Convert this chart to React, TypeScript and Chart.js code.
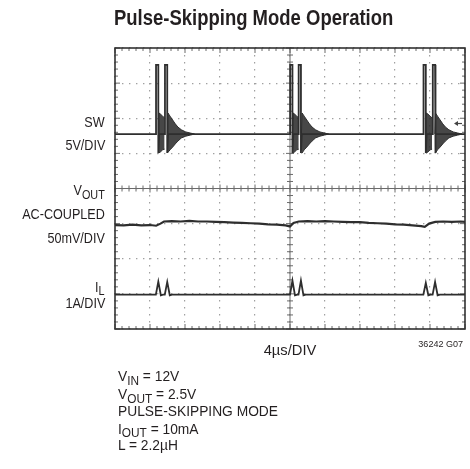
import React, { useEffect, useRef } from "react";
import { Chart, registerables } from "chart.js";

Chart.register(...registerables);

// ---- Axis ranges (scope graticule: 10 x 4µs divisions, 8 vertical divisions) ----
const TIME_MIN = 0;
const TIME_MAX = 40; // µs
const TIME_STEP = 4; // µs per division
const DIV_MIN = 0;
const DIV_MAX = 8;

// ---- SW trace (values in divisions from bottom of screen) ----
const SW_BASE = 5.55;
const SW_HIGH = 7.52;
const SW_LOW = 5.01;
const SW_PULSE_RISE = [4.69, 5.71, 20.02, 20.99, 35.26, 36.32]; // µs
const SW_PULSE_FALL = [4.95, 5.97, 20.28, 21.25, 35.52, 36.58]; // µs
const SW_BURST_START = [4.69, 20.02, 35.26]; // µs

// ringing envelope after first pulse of each burst (offset µs, high, low)
const RING_A_DT = [0.27, 0.33, 0.5, 0.75, 0.98];
const RING_A_HI = [5.55, 6.15, 6.12, 6.06, 6.01];
const RING_A_LO = [5.01, 5.01, 5.04, 5.1, 5.12];
// ringing envelope after second pulse of each burst
const RING_B_DT = [1.29, 1.36, 1.6, 1.9, 2.2, 2.5, 2.9, 3.4, 3.9, 4.4];
const RING_B_HI = [5.55, 6.15, 6.06, 5.95, 5.84, 5.75, 5.67, 5.61, 5.58, 5.55];
const RING_B_LO = [5.01, 5.01, 5.1, 5.18, 5.27, 5.35, 5.44, 5.49, 5.52, 5.55];

// ---- VOUT trace ----
const VOUT_TIME = [0, 1, 2, 3, 4, 4.7, 5.2, 5.6, 6.5, 7.5, 8.5, 9.5, 10.5, 11.5, 12.5, 13.5, 14.5, 15.5, 16.5, 17.5, 18.5, 19.5, 20.0, 20.4, 21.0, 22, 23, 24, 25, 26, 27, 28, 29, 30, 31, 32, 33, 34, 35, 35.4, 35.9, 36.6, 37.5, 38.5, 39.5, 40];
const VOUT_DIV = [2.96, 2.95, 2.97, 2.95, 2.96, 2.94, 3.0, 3.06, 3.07, 3.06, 3.08, 3.06, 3.06, 3.05, 3.04, 3.03, 3.02, 3.01, 3.0, 2.98, 2.97, 2.95, 2.92, 3.02, 3.06, 3.07, 3.06, 3.07, 3.06, 3.05, 3.04, 3.04, 3.02, 3.01, 3.0, 2.98, 2.97, 2.95, 2.93, 2.91, 3.0, 3.05, 3.06, 3.05, 3.06, 3.05];

// ---- IL trace ----
const IL_BASE = 0.98;
const IL_SPIKE_TIME = [4.69, 5.71, 20.02, 20.99, 35.26, 36.32];
const IL_SPIKE_PEAK = [1.35, 1.34, 1.38, 1.38, 1.31, 1.34];

// ---- Text ----
const TITLE = "Pulse-Skipping Mode Operation";
const TIME_LABEL = "4µs/DIV";
const FIG_ID = "36242 G07";

const FONT = "'Liberation Sans', Arial, Helvetica, sans-serif";
const INK = "#231f20";
const TRACE = "#2e2e2e";

function buildSW() {
  const pts: { x: number; y: number }[] = [{ x: TIME_MIN, y: SW_BASE }];
  SW_PULSE_RISE.forEach((r, i) => {
    const f = SW_PULSE_FALL[i];
    pts.push({ x: r, y: SW_BASE });
    pts.push({ x: r, y: SW_HIGH });
    pts.push({ x: f, y: SW_HIGH });
    pts.push({ x: f, y: SW_LOW });
    pts.push({ x: f + 0.1, y: SW_BASE });
  });
  pts.push({ x: TIME_MAX, y: SW_BASE });
  return pts;
}

function buildIL() {
  const pts: { x: number; y: number }[] = [{ x: TIME_MIN, y: IL_BASE }];
  IL_SPIKE_TIME.forEach((t, i) => {
    pts.push({ x: t - 0.02, y: IL_BASE });
    pts.push({ x: t + 0.26, y: IL_SPIKE_PEAK[i] });
    pts.push({ x: t + 0.55, y: IL_BASE - 0.02 });
    pts.push({ x: t + 0.8, y: IL_BASE });
  });
  pts.push({ x: TIME_MAX, y: IL_BASE });
  return pts;
}

function ringDatasets() {
  const ds: any[] = [];
  SW_BURST_START.forEach((s) => {
    [[RING_A_DT, RING_A_HI, RING_A_LO], [RING_B_DT, RING_B_HI, RING_B_LO]].forEach(([dt, hi, lo]) => {
      ds.push({
        data: dt.map((d, k) => ({ x: s + d, y: hi[k] })),
        borderColor: TRACE,
        borderWidth: 1,
        pointRadius: 0,
        fill: false,
      });
      ds.push({
        data: dt.map((d, k) => ({ x: s + d, y: lo[k] })),
        borderColor: TRACE,
        borderWidth: 1,
        pointRadius: 0,
        fill: "-1",
        backgroundColor: "rgba(45,45,45,0.88)",
      });
    });
  });
  return ds;
}

const graticule = {
  id: "graticule",
  beforeDatasetsDraw(chart: any) {
    const { ctx, chartArea: a, scales } = chart;
    const xs = scales.x;
    const ys = scales.y;
    const line = (x1: number, y1: number, x2: number, y2: number) => {
      ctx.beginPath();
      ctx.moveTo(x1, y1);
      ctx.lineTo(x2, y2);
      ctx.stroke();
    };
    ctx.save();
    const cx = xs.getPixelForValue((TIME_MIN + TIME_MAX) / 2);
    const cy = ys.getPixelForValue((DIV_MIN + DIV_MAX) / 2);
    ctx.strokeStyle = "#6a6a6a";
    ctx.lineWidth = 1;
    line(cx, a.top, cx, a.bottom);
    line(a.left, cy, a.right, cy);
    const nx = ((TIME_MAX - TIME_MIN) / TIME_STEP) * 5;
    for (let i = 0; i <= nx; i++) {
      const px = xs.getPixelForValue(TIME_MIN + (i * TIME_STEP) / 5);
      const major = i % 5 === 0;
      line(px, cy - (major ? 4 : 3), px, cy + (major ? 4 : 3));
      line(px, a.top, px, a.top + (major ? 5 : 3));
      line(px, a.bottom - (major ? 5 : 3), px, a.bottom);
    }
    const ny = (DIV_MAX - DIV_MIN) * 5;
    for (let i = 0; i <= ny; i++) {
      const py = ys.getPixelForValue(DIV_MIN + i / 5);
      const major = i % 5 === 0;
      line(cx - (major ? 4 : 3), py, cx + (major ? 4 : 3), py);
      line(a.left, py, a.left + (major ? 5 : 3), py);
      line(a.right - (major ? 5 : 3), py, a.right, py);
    }
    // channel ground-level marker for SW at right edge
    const my = ys.getPixelForValue(SW_BASE + 0.3);
    ctx.strokeStyle = "#444";
    ctx.lineWidth = 1.2;
    line(a.right - 9, my, a.right - 3, my);
    ctx.fillStyle = "#444";
    ctx.beginPath();
    ctx.moveTo(a.right - 11, my);
    ctx.lineTo(a.right - 7, my - 2.5);
    ctx.lineTo(a.right - 7, my + 2.5);
    ctx.closePath();
    ctx.fill();
    ctx.strokeStyle = "#333";
    ctx.lineWidth = 1.6;
    ctx.strokeRect(a.left, a.top, a.right - a.left, a.bottom - a.top);
    ctx.restore();
  },
};

type Align = "left" | "right" | "center";
const txt = (anchorX: number, baseline: number, size: number, align: Align, sx: number, extra: React.CSSProperties = {}): React.CSSProperties => {
  const base: React.CSSProperties = {
    position: "absolute",
    whiteSpace: "nowrap",
    lineHeight: 1,
    fontSize: size,
    top: baseline - 0.8465 * size,
    transform: `scaleX(${sx})`,
    ...extra,
  };
  if (align === "left") return { ...base, left: anchorX, transformOrigin: "left center" };
  if (align === "right") return { ...base, right: 470 - anchorX, textAlign: "right", transformOrigin: "right center" };
  return { ...base, left: anchorX - 150, width: 300, textAlign: "center", transformOrigin: "center center" };
};

const Sub = ({ children }: { children: React.ReactNode }) => (
  <span style={{ fontSize: "0.86em", position: "relative", top: "0.3em" }}>{children}</span>
);

export default function App() {
  const ref = useRef<HTMLCanvasElement>(null);
  useEffect(() => {
    if (!ref.current) return;
    const chart = new Chart(ref.current, {
      type: "line",
      data: {
        datasets: [
          { data: buildSW(), borderColor: TRACE, borderWidth: 1.8, pointRadius: 0, fill: false },
          ...ringDatasets(),
          {
            data: VOUT_TIME.map((t, i) => ({ x: t, y: VOUT_DIV[i] })),
            borderColor: TRACE,
            borderWidth: 2.2,
            pointRadius: 0,
            fill: false,
          },
          { data: buildIL(), borderColor: TRACE, borderWidth: 1.8, pointRadius: 0, fill: false },
        ],
      },
      options: {
        responsive: false,
        animation: false,
        devicePixelRatio: 1,
        events: [],
        layout: { padding: { left: 115, top: 48, right: 5, bottom: 140 } },
        plugins: { legend: { display: false }, tooltip: { enabled: false } },
        elements: { line: { tension: 0 } },
        scales: {
          x: {
            type: "linear",
            min: TIME_MIN,
            max: TIME_MAX,
            ticks: { display: false, stepSize: TIME_STEP },
            grid: { color: "#a0a0a0", lineWidth: 1.2, drawTicks: false },
            border: { display: false, dash: [1.4, 5.6] },
          },
          y: {
            type: "linear",
            min: DIV_MIN,
            max: DIV_MAX,
            ticks: { display: false, stepSize: 1 },
            grid: { color: "#a0a0a0", lineWidth: 1.2, drawTicks: false },
            border: { display: false, dash: [1.4, 5.6] },
          },
        },
      },
      plugins: [graticule],
    });
    return () => chart.destroy();
  }, []);

  const L = 14; // left label size
  const LS = 0.9;
  const C = 14.5; // conditions size
  const CS = 0.95;
  return (
    <div style={{ position: "absolute", left: 0, top: 0, width: 470, height: 469, background: "#fff", fontFamily: FONT, color: INK }}>
      <canvas ref={ref} width={470} height={469} style={{ position: "absolute", left: 0, top: 0, width: 470, height: 469 }} />
      <div style={txt(114, 26, 22, "left", 0.84, { fontWeight: "bold" })}>{TITLE}</div>

      <div style={txt(105, 127, L, "right", LS)}>SW</div>
      <div style={txt(105, 150, L, "right", LS)}>5V/DIV</div>
      <div style={txt(105, 195, L, "right", LS)}>
        V<Sub>OUT</Sub>
      </div>
      <div style={txt(105, 219, L, "right", LS)}>AC-COUPLED</div>
      <div style={txt(105, 243, L, "right", LS)}>50mV/DIV</div>
      <div style={txt(105, 291.5, L, "right", LS)}>
        I<Sub>L</Sub>
      </div>
      <div style={txt(105, 308, L, "right", LS)}>1A/DIV</div>

      <div style={txt(290, 355, 15.5, "center", 0.95)}>{TIME_LABEL}</div>
      <div style={txt(463, 347, 9.5, "right", 0.95)}>{FIG_ID}</div>

      <div style={txt(118, 381.7, C, "left", CS)}>
        V<Sub>IN</Sub> = 12V
      </div>
      <div style={txt(118, 399.3, C, "left", CS)}>
        V<Sub>OUT</Sub> = 2.5V
      </div>
      <div style={txt(118, 416.7, C, "left", CS)}>PULSE-SKIPPING MODE</div>
      <div style={txt(118, 434, C, "left", CS)}>
        I<Sub>OUT</Sub> = 10mA
      </div>
      <div style={txt(118, 450, C, "left", CS)}>L = 2.2µH</div>
    </div>
  );
}
